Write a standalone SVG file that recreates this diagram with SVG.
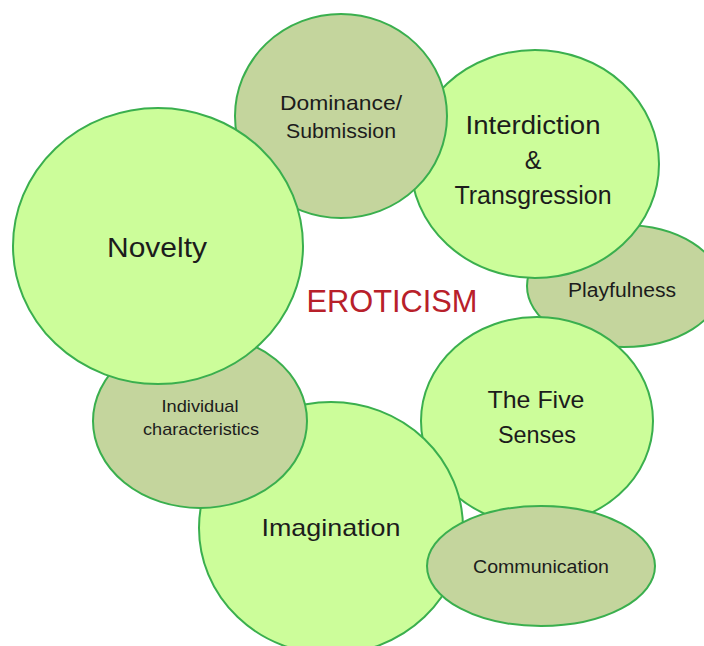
<svg xmlns="http://www.w3.org/2000/svg" width="704" height="646" viewBox="0 0 704 646">
<style>
.lg{fill:#ccfd9a;stroke:#3aaf4e;stroke-width:2}
.ol{fill:#c4d59d;stroke:#3aaf4e;stroke-width:2}
text{font-family:"Liberation Sans",Arial,sans-serif;fill:#1c1c1c;text-anchor:middle}
.t{fill:#b8202a;font-size:31px}
</style>
<rect width="704" height="646" fill="#ffffff"/>
<g id="connectors"/>
<g id="playfulness">
<ellipse class="ol" cx="624" cy="286" rx="97" ry="61"/>
<text x="622" y="297" font-size="20" textLength="108" lengthAdjust="spacingAndGlyphs">Playfulness</text>
</g>
<g id="interdiction">
<ellipse class="lg" cx="535" cy="164" rx="124" ry="114"/>
<text x="533" y="134" font-size="25" textLength="135" lengthAdjust="spacingAndGlyphs">Interdiction</text>
<text x="533" y="169" font-size="25">&amp;</text>
<text x="533" y="204" font-size="25" textLength="157" lengthAdjust="spacingAndGlyphs">Transgression</text>
</g>
<g id="dominance">
<ellipse class="ol" cx="341" cy="116" rx="106" ry="102"/>
<text x="341" y="110" font-size="21" textLength="122" lengthAdjust="spacingAndGlyphs">Dominance/</text>
<text x="341" y="138" font-size="21" textLength="110" lengthAdjust="spacingAndGlyphs">Submission</text>
</g>
<g id="five-senses">
<ellipse class="lg" cx="537" cy="421" rx="116" ry="104"/>
<text x="536" y="408" font-size="24" textLength="97" lengthAdjust="spacingAndGlyphs">The Five</text>
<text x="537" y="443" font-size="24" textLength="78" lengthAdjust="spacingAndGlyphs">Senses</text>
</g>
<g id="imagination">
<ellipse class="lg" cx="331" cy="528" rx="132" ry="126"/>
<text x="331" y="536" font-size="24" textLength="139" lengthAdjust="spacingAndGlyphs">Imagination</text>
</g>
<g id="individual">
<ellipse class="ol" cx="200" cy="421" rx="107" ry="87"/>
<text x="200" y="412" font-size="17" textLength="77" lengthAdjust="spacingAndGlyphs">Individual</text>
<text x="201" y="435" font-size="17" textLength="116" lengthAdjust="spacingAndGlyphs">characteristics</text>
</g>
<g id="novelty">
<ellipse class="lg" cx="158" cy="246" rx="145" ry="138"/>
<text x="157" y="257" font-size="28" textLength="100" lengthAdjust="spacingAndGlyphs">Novelty</text>
</g>
<g id="communication">
<ellipse class="ol" cx="541" cy="566" rx="114" ry="60"/>
<text x="541" y="573" font-size="19" textLength="136" lengthAdjust="spacingAndGlyphs">Communication</text>
</g>
<g id="eroticism">
<text class="t" x="392" y="312" textLength="171" lengthAdjust="spacingAndGlyphs">EROTICISM</text>
</g>
</svg>
